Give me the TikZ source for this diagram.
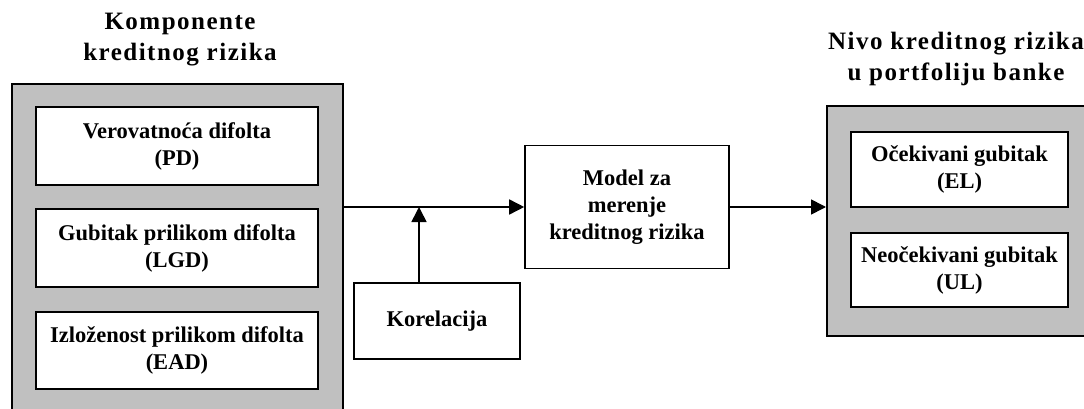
\documentclass[tikz,border=0pt]{standalone}
\usepackage{fontspec}
\setmainfont{Liberation Serif}
\newfontfamily\titlefont[LetterSpace=6]{Liberation Serif}
\usetikzlibrary{arrows.meta}
\definecolor{boxgray}{HTML}{C0C0C0}
\begin{document}
\begin{tikzpicture}[x=1pt,y=-1pt,
  graybox/.style={draw=black, line width=1.6pt, fill=boxgray, inner sep=0pt},
  whitebox/.style={draw=black, line width=1.6pt, fill=white, align=center, inner sep=0pt,
    font=\fontsize{22.5}{27}\selectfont\bfseries},
  titletext/.style={align=center, inner sep=0pt, font=\titlefont\fontsize{25}{31}\selectfont\bfseries},
  arrow/.style={line width=1.6pt, -{Triangle[length=15pt,width=15pt]}}
]
\useasboundingbox (0,0) rectangle (1084,409);
\clip (0,0) rectangle (1084,409);
\fill[white] (0,0) rectangle (1084,409);

% titles
\node[titletext] (titleL) at (180,40) {Komponente\\kreditnog rizika};
\node[titletext] (titleR) at (956,59) {Nivo kreditnog rizika\\u portfoliju banke};

% left group
\node[graybox, anchor=north west, minimum width=331pt, minimum height=340pt] (grayL) at (11,83) {};
\node[whitebox, minimum width=282pt, minimum height=78pt] (pd) at (177,146) {Verovatnoća difolta\\(PD)};
\node[whitebox, minimum width=282pt, minimum height=78pt] (lgd) at (177,248) {Gubitak prilikom difolta\\(LGD)};
\node[whitebox, minimum width=282pt, minimum height=77pt] (ead) at (177,350.5) {Izloženost prilikom difolta\\(EAD)};

% middle
\node[whitebox, minimum width=204pt, minimum height=123pt] (model) at (627,207) {Model za\\merenje\\kreditnog rizika};
\node[whitebox, minimum width=166pt, minimum height=76pt] (korel) at (437,321) {Korelacija};

% right group
\node[graybox, anchor=north west, minimum width=290pt, minimum height=230pt] (grayR) at (826,105) {};
\node[whitebox, minimum width=217pt, minimum height=75pt] (el) at (959.5,169.5) {Očekivani gubitak\\(EL)};
\node[whitebox, minimum width=217pt, minimum height=74pt] (ul) at (959.5,270) {Neočekivani gubitak\\(UL)};

% connectors
\draw[arrow] (grayL.east |- model.west) -- (model.west);
\draw[arrow] ([xshift=-18pt]korel.north) -- ([xshift=-18pt]korel.north |- model.west);
\draw[arrow] (model.east) -- (grayR.west |- model.east);
\end{tikzpicture}
\end{document}
